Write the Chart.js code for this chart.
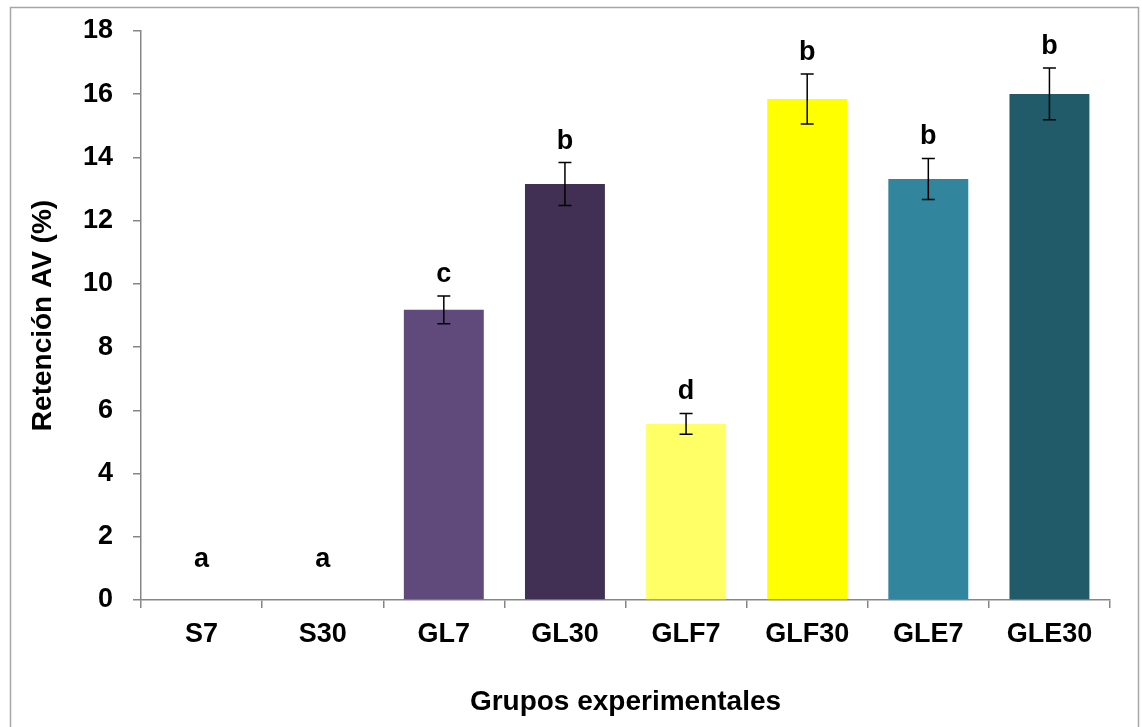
<!DOCTYPE html>
<html>
<head>
<meta charset="utf-8">
<script src="https://cdn.jsdelivr.net/npm/chart.js@4"></script>
<style>
  body { margin: 0; background: #fff; }
  #wrap { width: 1142px; height: 727px; }
</style>
</head>
<body>
<div id="wrap"><canvas id="chart" width="1142" height="727"></canvas></div>
<script>
const grupos = ["S7", "S30", "GL7", "GL30", "GLF7", "GLF30", "GLE7", "GLE30"];
const retencion = [0, 0, 9.18, 13.16, 5.57, 15.85, 13.32, 16.01];
const errores = [0, 0, 0.44, 0.68, 0.33, 0.79, 0.65, 0.82];
const letras = ["a", "a", "c", "b", "d", "b", "b", "b"];
const colores = ["#ffffff", "#ffffff", "#5f4a7b", "#423054", "#ffff66", "#ffff00", "#31859c", "#215a69"];

const fuente = "'Liberation Sans', Arial, sans-serif";
const gris = "#868686";

// marco exterior del gráfico
const marco = {
  id: "marco",
  beforeDraw(chart) {
    const ctx = chart.ctx;
    ctx.save();
    ctx.fillStyle = "#fff";
    ctx.fillRect(0, 0, chart.width, chart.height);
    ctx.strokeStyle = "#a6a6a6";
    ctx.lineWidth = 1.5;
    ctx.strokeRect(10.5, 7.5, 1128, 740);
    ctx.restore();
  },
};

// barras de error y letras de significancia
const errorBars = {
  id: "errorBars",
  afterDatasetsDraw(chart) {
    const ctx = chart.ctx;
    const y = chart.scales.y;
    const meta = chart.getDatasetMeta(0);
    ctx.save();
    meta.data.forEach((bar, i) => {
      const x = bar.x;
      const top = retencion[i] + errores[i];
      if (errores[i] > 0) {
        const y1 = y.getPixelForValue(top);
        const y2 = y.getPixelForValue(retencion[i] - errores[i]);
        ctx.strokeStyle = "#000";
        ctx.lineWidth = 1.5;
        ctx.beginPath();
        ctx.moveTo(x, y1);
        ctx.lineTo(x, y2);
        ctx.moveTo(x - 6.5, y1);
        ctx.lineTo(x + 6.5, y1);
        ctx.moveTo(x - 6.5, y2);
        ctx.lineTo(x + 6.5, y2);
        ctx.stroke();
      }
      ctx.fillStyle = "#000";
      ctx.font = "bold 27px " + fuente;
      ctx.textAlign = "center";
      ctx.textBaseline = "alphabetic";
      ctx.fillText(letras[i], x, y.getPixelForValue(Math.max(top, 0.6)) - 14);
    });
    ctx.restore();
  },
};

new Chart(document.getElementById("chart"), {
  type: "bar",
  data: {
    labels: grupos,
    datasets: [
      {
        data: retencion,
        backgroundColor: colores,
        borderWidth: 0,
        barPercentage: 0.66,
        categoryPercentage: 1,
      },
    ],
  },
  options: {
    responsive: false,
    animation: false,
    layout: { padding: { top: 31, right: 32, left: 0, bottom: 0 } },
    plugins: {
      legend: { display: false },
      tooltip: { enabled: false },
    },
    scales: {
      x: {
        offset: true,
        afterFit(scale) {
          scale.height = 127;
          scale.paddingLeft = 0;
          scale.paddingRight = 0;
        },
        grid: {
          offset: true,
          drawOnChartArea: false,
          tickLength: 8,
          color: gris,
          lineWidth: 1.5,
        },
        border: { color: gris, width: 1.5 },
        ticks: {
          color: "#000",
          padding: 10,
          font: { family: fuente, size: 27, weight: "bold" },
        },
        title: {
          display: true,
          text: "Grupos experimentales",
          color: "#000",
          padding: { top: 0, bottom: 8 },
          font: { family: fuente, size: 28, weight: "bold" },
        },
      },
      y: {
        min: 0,
        max: 18,
        afterFit(scale) {
          scale.width = 141;
          scale.paddingTop = 0;
          scale.paddingBottom = 0;
        },
        ticks: {
          stepSize: 2,
          color: "#000",
          padding: 20,
          font: { family: fuente, size: 27, weight: "bold" },
        },
        grid: {
          drawOnChartArea: false,
          tickLength: 8,
          color: gris,
          lineWidth: 1.5,
        },
        border: { color: gris, width: 1.5 },
        title: {
          display: true,
          text: "Retención AV (%)",
          color: "#000",
          padding: { top: 26, bottom: 0 },
          font: { family: fuente, size: 28, weight: "bold" },
        },
      },
    },
  },
  plugins: [marco, errorBars],
});
</script>
</body>
</html>
